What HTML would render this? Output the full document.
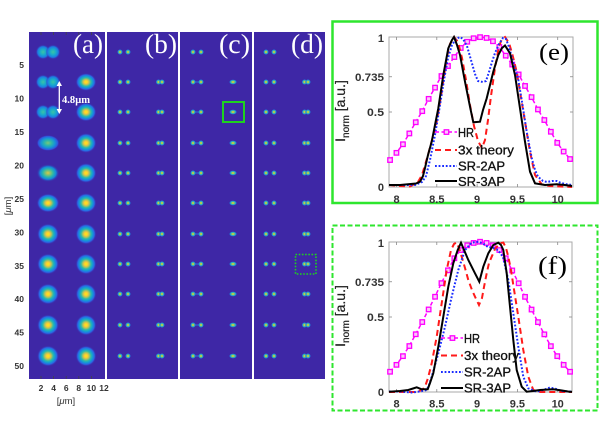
<!DOCTYPE html>
<html><head><meta charset="utf-8"><style>
html,body{margin:0;padding:0;background:#fff;}
svg{display:block;}
</style></head><body>
<svg width="600" height="425" viewBox="0 0 600 425" xmlns="http://www.w3.org/2000/svg">
<defs>
<radialGradient id="gBig">
<stop offset="0" stop-color="#f9f20f"/><stop offset="0.17" stop-color="#fbc936"/><stop offset="0.32" stop-color="#a6c262"/><stop offset="0.47" stop-color="#2fbaa6"/><stop offset="0.62" stop-color="#139fd2"/><stop offset="0.8" stop-color="#2a67e6"/><stop offset="1" stop-color="#3e27a6" stop-opacity="0"/>
</radialGradient>
<radialGradient id="gMid2">
<stop offset="0" stop-color="#dcc648"/><stop offset="0.2" stop-color="#8cc46c"/><stop offset="0.45" stop-color="#2cb8a8"/><stop offset="0.7" stop-color="#1488dc"/><stop offset="1" stop-color="#3e27a6" stop-opacity="0"/>
</radialGradient>
<radialGradient id="gMid">
<stop offset="0" stop-color="#7cc57a"/><stop offset="0.3" stop-color="#31b9a5"/><stop offset="0.6" stop-color="#1695d6"/><stop offset="0.85" stop-color="#3056e0"/><stop offset="1" stop-color="#3e27a6" stop-opacity="0"/>
</radialGradient>
<radialGradient id="gLobe">
<stop offset="0" stop-color="#3cc4a4"/><stop offset="0.4" stop-color="#18aacc"/><stop offset="0.72" stop-color="#1e78e4"/><stop offset="1" stop-color="#3e27a6" stop-opacity="0"/>
</radialGradient>
<radialGradient id="gDot">
<stop offset="0" stop-color="#f0e21c"/><stop offset="0.3" stop-color="#a8c858"/><stop offset="0.55" stop-color="#30b8b0"/><stop offset="0.8" stop-color="#1d7fe0"/><stop offset="1" stop-color="#3e27a6" stop-opacity="0"/>
</radialGradient>
</defs>

<!-- LEFT PANELS -->
<rect x="29" y="32" width="76" height="347" fill="#3e27a6"/>
<rect x="107" y="32" width="71" height="347" fill="#3e27a6"/>
<rect x="180" y="32" width="72" height="347" fill="#3e27a6"/>
<rect x="254" y="32" width="71" height="347" fill="#3e27a6"/>

<!-- panel (a) blobs -->
<g>
<circle cx="43" cy="52" r="7.5" fill="url(#gLobe)"/><circle cx="53" cy="52" r="7.5" fill="url(#gLobe)"/>
<circle cx="43" cy="82" r="7.5" fill="url(#gLobe)"/><circle cx="53" cy="82" r="7.5" fill="url(#gLobe)"/>
<circle cx="43" cy="112" r="7.5" fill="url(#gLobe)"/><circle cx="53" cy="112" r="7.5" fill="url(#gLobe)"/>
<ellipse cx="48" cy="143" rx="11.5" ry="8" fill="url(#gMid)"/>
<ellipse cx="48" cy="173" rx="11.5" ry="9" fill="url(#gMid2)"/>
<ellipse cx="48" cy="203" rx="11.5" ry="9.5" fill="url(#gBig)"/>
<ellipse cx="48" cy="234" rx="11" ry="10.5" fill="url(#gBig)"/>
<ellipse cx="48" cy="264" rx="11" ry="10.5" fill="url(#gBig)"/>
<ellipse cx="48" cy="294" rx="11" ry="10.5" fill="url(#gBig)"/>
<ellipse cx="48" cy="325" rx="11" ry="10.5" fill="url(#gBig)"/>
<ellipse cx="48" cy="356" rx="11" ry="10.5" fill="url(#gBig)"/>
<ellipse cx="86" cy="82" rx="10.5" ry="9" fill="url(#gBig)"/>
<ellipse cx="86" cy="112" rx="10.5" ry="9.5" fill="url(#gBig)"/>
<ellipse cx="86" cy="143" rx="10.5" ry="10" fill="url(#gBig)"/>
<ellipse cx="86" cy="173" rx="10.5" ry="10" fill="url(#gBig)"/>
<ellipse cx="86" cy="203" rx="10.5" ry="10" fill="url(#gBig)"/>
<ellipse cx="86" cy="234" rx="10.5" ry="10.5" fill="url(#gBig)"/>
<ellipse cx="86" cy="264" rx="10.5" ry="10.5" fill="url(#gBig)"/>
<ellipse cx="86" cy="294" rx="10.5" ry="10.5" fill="url(#gBig)"/>
<ellipse cx="86" cy="325" rx="10.5" ry="10.5" fill="url(#gBig)"/>
<ellipse cx="86" cy="356" rx="10.5" ry="10.5" fill="url(#gBig)"/>
</g>

<!-- panels b,c,d dots -->
<g fill="url(#gDot)">
<circle cx="120" cy="52" r="2.8"/><circle cx="128" cy="52" r="2.8"/>
<circle cx="120" cy="82" r="2.8"/><circle cx="128" cy="82" r="2.8"/><circle cx="158.5" cy="82" r="2.8"/><circle cx="162" cy="82" r="2.8"/>
<circle cx="120" cy="112" r="2.8"/><circle cx="128" cy="112" r="2.8"/><circle cx="158.5" cy="112" r="2.8"/><circle cx="162" cy="112" r="2.8"/>
<circle cx="120" cy="143" r="2.8"/><circle cx="128" cy="143" r="2.8"/><circle cx="158.5" cy="143" r="2.8"/><circle cx="162" cy="143" r="2.8"/>
<circle cx="120" cy="173" r="2.8"/><circle cx="128" cy="173" r="2.8"/><circle cx="158.5" cy="173" r="2.8"/><circle cx="162" cy="173" r="2.8"/>
<circle cx="120" cy="203" r="2.8"/><circle cx="128" cy="203" r="2.8"/><circle cx="158.5" cy="203" r="2.8"/><circle cx="162" cy="203" r="2.8"/>
<circle cx="120" cy="234" r="2.8"/><circle cx="128" cy="234" r="2.8"/><circle cx="158.5" cy="234" r="2.8"/><circle cx="162" cy="234" r="2.8"/>
<circle cx="120" cy="264" r="2.8"/><circle cx="128" cy="264" r="2.8"/><circle cx="158.5" cy="264" r="2.8"/><circle cx="162" cy="264" r="2.8"/>
<circle cx="120" cy="294" r="2.8"/><circle cx="128" cy="294" r="2.8"/><circle cx="158.5" cy="294" r="2.8"/><circle cx="162" cy="294" r="2.8"/>
<circle cx="120" cy="325" r="2.8"/><circle cx="128" cy="325" r="2.8"/><circle cx="158.5" cy="325" r="2.8"/><circle cx="162" cy="325" r="2.8"/>
<circle cx="120" cy="356" r="2.8"/><circle cx="128" cy="356" r="2.8"/><circle cx="158.5" cy="356" r="2.8"/><circle cx="162" cy="356" r="2.8"/>
<circle cx="193" cy="52" r="2.8"/><circle cx="201" cy="52" r="2.8"/>
<circle cx="193" cy="82" r="2.8"/><circle cx="201" cy="82" r="2.8"/><ellipse cx="233" cy="82" rx="4" ry="2.6"/>
<circle cx="193" cy="112" r="2.8"/><circle cx="201" cy="112" r="2.8"/><ellipse cx="233" cy="112" rx="4" ry="2.6"/>
<circle cx="193" cy="143" r="2.8"/><circle cx="201" cy="143" r="2.8"/><ellipse cx="233" cy="143" rx="4" ry="2.6"/>
<circle cx="193" cy="173" r="2.8"/><circle cx="201" cy="173" r="2.8"/><ellipse cx="233" cy="173" rx="4" ry="2.6"/>
<circle cx="193" cy="203" r="2.8"/><circle cx="201" cy="203" r="2.8"/><ellipse cx="233" cy="203" rx="4" ry="2.6"/>
<circle cx="193" cy="234" r="2.8"/><circle cx="201" cy="234" r="2.8"/><ellipse cx="233" cy="234" rx="4" ry="2.6"/>
<circle cx="193" cy="264" r="2.8"/><circle cx="201" cy="264" r="2.8"/><ellipse cx="233" cy="264" rx="4" ry="2.6"/>
<circle cx="193" cy="294" r="2.8"/><circle cx="201" cy="294" r="2.8"/><ellipse cx="233" cy="294" rx="4" ry="2.6"/>
<circle cx="193" cy="325" r="2.8"/><circle cx="201" cy="325" r="2.8"/><ellipse cx="233" cy="325" rx="4" ry="2.6"/>
<circle cx="193" cy="356" r="2.8"/><circle cx="201" cy="356" r="2.8"/><ellipse cx="233" cy="356" rx="4" ry="2.6"/>
<circle cx="266" cy="52" r="2.8"/><circle cx="274" cy="52" r="2.8"/>
<circle cx="266" cy="82" r="2.8"/><circle cx="274" cy="82" r="2.8"/><circle cx="304.5" cy="82" r="2.8"/><circle cx="308" cy="82" r="2.8"/>
<circle cx="266" cy="112" r="2.8"/><circle cx="274" cy="112" r="2.8"/><circle cx="304.5" cy="112" r="2.8"/><circle cx="308" cy="112" r="2.8"/>
<circle cx="266" cy="143" r="2.8"/><circle cx="274" cy="143" r="2.8"/><circle cx="304.5" cy="143" r="2.8"/><circle cx="308" cy="143" r="2.8"/>
<circle cx="266" cy="173" r="2.8"/><circle cx="274" cy="173" r="2.8"/><circle cx="304.5" cy="173" r="2.8"/><circle cx="308" cy="173" r="2.8"/>
<circle cx="266" cy="203" r="2.8"/><circle cx="274" cy="203" r="2.8"/><circle cx="304.5" cy="203" r="2.8"/><circle cx="308" cy="203" r="2.8"/>
<circle cx="266" cy="234" r="2.8"/><circle cx="274" cy="234" r="2.8"/><circle cx="304.5" cy="234" r="2.8"/><circle cx="308" cy="234" r="2.8"/>
<circle cx="266" cy="264" r="2.8"/><circle cx="274" cy="264" r="2.8"/><circle cx="304.5" cy="264" r="2.8"/><circle cx="308" cy="264" r="2.8"/>
<circle cx="266" cy="294" r="2.8"/><circle cx="274" cy="294" r="2.8"/><circle cx="304.5" cy="294" r="2.8"/><circle cx="308" cy="294" r="2.8"/>
<circle cx="266" cy="325" r="2.8"/><circle cx="274" cy="325" r="2.8"/><circle cx="304.5" cy="325" r="2.8"/><circle cx="308" cy="325" r="2.8"/>
<circle cx="266" cy="356" r="2.8"/><circle cx="274" cy="356" r="2.8"/><circle cx="304.5" cy="356" r="2.8"/><circle cx="308" cy="356" r="2.8"/>
</g>
<g stroke="#2a8ee8" stroke-width="1.2" opacity="0.6">
<line x1="195" y1="82" x2="199" y2="82"/><line x1="195" y1="112" x2="199" y2="112"/><line x1="195" y1="143" x2="199" y2="143"/><line x1="195" y1="173" x2="199" y2="173"/><line x1="195" y1="203" x2="199" y2="203"/><line x1="195" y1="234" x2="199" y2="234"/><line x1="195" y1="264" x2="199" y2="264"/><line x1="195" y1="294" x2="199" y2="294"/><line x1="195" y1="325" x2="199" y2="325"/><line x1="195" y1="356" x2="199" y2="356"/>
</g>

<g stroke="#444" stroke-width="0.8">
<line x1="41" y1="32" x2="41" y2="35"/><line x1="53.6" y1="32" x2="53.6" y2="35"/><line x1="66.2" y1="32" x2="66.2" y2="35"/><line x1="78.8" y1="32" x2="78.8" y2="35"/><line x1="91.4" y1="32" x2="91.4" y2="35"/>
<line x1="41" y1="379" x2="41" y2="376"/><line x1="53.6" y1="379" x2="53.6" y2="376"/><line x1="66.2" y1="379" x2="66.2" y2="376"/><line x1="78.8" y1="379" x2="78.8" y2="376"/><line x1="91.4" y1="379" x2="91.4" y2="376"/>
</g>

<rect x="223" y="102" width="21" height="20" fill="none" stroke="#1ed21e" stroke-width="2"/>
<rect x="295.5" y="254.5" width="20.5" height="19.5" fill="none" stroke="#1ed21e" stroke-width="1.6" stroke-dasharray="1.6,1.6"/>

<line x1="59.3" y1="84" x2="59.3" y2="111" stroke="#fff" stroke-width="1.3"/>
<polygon points="59.3,81 56.6,86 62,86" fill="#fff"/>
<polygon points="59.3,114 56.6,109 62,109" fill="#fff"/>
<text x="62" y="103" font-family="Liberation Serif, serif" font-weight="bold" font-size="10.5" fill="#fff" textLength="28" lengthAdjust="spacingAndGlyphs">4.8μm</text>

<g font-family="Liberation Serif, serif" font-size="27" fill="#fff">
<text x="73" y="53" textLength="30" lengthAdjust="spacingAndGlyphs">(a)</text>
<text x="145" y="53" textLength="32" lengthAdjust="spacingAndGlyphs">(b)</text>
<text x="219" y="53" textLength="31" lengthAdjust="spacingAndGlyphs">(c)</text>
<text x="291" y="53" textLength="32" lengthAdjust="spacingAndGlyphs">(d)</text>
</g>

<g font-family="Liberation Sans, sans-serif" font-weight="bold" font-size="8.5" fill="#333" text-anchor="end">
<text x="24" y="68">5</text><text x="24" y="101.5">10</text><text x="24" y="135">15</text><text x="24" y="168.5">20</text><text x="24" y="202">25</text><text x="24" y="235.3">30</text><text x="24" y="268.8">35</text><text x="24" y="302.2">40</text><text x="24" y="335.7">45</text><text x="24" y="369.1">50</text>
</g>
<g font-family="Liberation Sans, sans-serif" font-weight="bold" font-size="8.5" fill="#333" text-anchor="middle">
<text x="41" y="391">2</text><text x="53.6" y="391">4</text><text x="66.2" y="391">6</text><text x="78.8" y="391">8</text><text x="91.4" y="391">10</text><text x="104" y="391">12</text>
</g>
<text x="66" y="404" font-family="Liberation Sans, sans-serif" font-size="9.5" fill="#333" text-anchor="middle">[<tspan font-style="italic">μ</tspan>m]</text>
<text transform="translate(11,206) rotate(-90)" font-family="Liberation Sans, sans-serif" font-size="9.5" fill="#333" text-anchor="middle">[<tspan font-style="italic">μ</tspan>m]</text>

<!-- ============ RIGHT TOP (e) ============ -->
<rect x="332.5" y="21.5" width="265" height="181.5" fill="none" stroke="#2ee62e" stroke-width="2.5"/>
<rect x="389" y="37" width="184" height="150" fill="#fff" stroke="#aaa" stroke-width="1"/>
<g stroke="#888" stroke-width="0.8">
<line x1="389" y1="76.75" x2="392" y2="76.75"/><line x1="389" y1="112" x2="392" y2="112"/>
<line x1="573" y1="76.75" x2="570" y2="76.75"/><line x1="573" y1="112" x2="570" y2="112"/>
<line x1="396.5" y1="187" x2="396.5" y2="184"/><line x1="436.8" y1="187" x2="436.8" y2="184"/><line x1="477.1" y1="187" x2="477.1" y2="184"/><line x1="517.4" y1="187" x2="517.4" y2="184"/><line x1="557.7" y1="187" x2="557.7" y2="184"/>
<line x1="396.5" y1="37" x2="396.5" y2="40"/><line x1="436.8" y1="37" x2="436.8" y2="40"/><line x1="477.1" y1="37" x2="477.1" y2="40"/><line x1="517.4" y1="37" x2="517.4" y2="40"/><line x1="557.7" y1="37" x2="557.7" y2="40"/>
</g>
<polyline fill="none" stroke="#ff00ff" stroke-width="1.5" stroke-dasharray="4,2.5" points="390,160 396.4,152.8 402.9,144.2 409.3,133.4 415.7,122.2 422.2,111.1 428.6,98.8 435,87.6 441.4,76 447.9,66 454.3,57 460.7,47.9 467.2,41.7 473.6,38.2 480,37.1 486.5,37.9 492.9,41.2 499.3,46.9 505.7,55.6 512.2,64.5 518.6,74.4 525,85.9 531.5,97.1 537.9,109.4 544.3,120 550.8,131.7 557.2,142.8 563.6,151.5 570,159"/>
<g fill="#f9c8f9" stroke="#ff00ff" stroke-width="1.3">
<rect x="387.8" y="157.8" width="4.5" height="4.5"/><rect x="394.2" y="150.6" width="4.5" height="4.5"/><rect x="400.7" y="142" width="4.5" height="4.5"/><rect x="407.1" y="131.2" width="4.5" height="4.5"/><rect x="413.5" y="120" width="4.5" height="4.5"/><rect x="420" y="108.9" width="4.5" height="4.5"/><rect x="426.4" y="96.6" width="4.5" height="4.5"/><rect x="432.8" y="85.4" width="4.5" height="4.5"/><rect x="439.2" y="73.8" width="4.5" height="4.5"/><rect x="445.7" y="63.8" width="4.5" height="4.5"/><rect x="452.1" y="54.8" width="4.5" height="4.5"/><rect x="458.5" y="45.7" width="4.5" height="4.5"/><rect x="465" y="39.5" width="4.5" height="4.5"/><rect x="471.4" y="36" width="4.5" height="4.5"/><rect x="477.8" y="34.9" width="4.5" height="4.5"/><rect x="484.3" y="35.7" width="4.5" height="4.5"/><rect x="490.7" y="39" width="4.5" height="4.5"/><rect x="497.1" y="44.7" width="4.5" height="4.5"/><rect x="503.5" y="53.4" width="4.5" height="4.5"/><rect x="510" y="62.3" width="4.5" height="4.5"/><rect x="516.4" y="72.2" width="4.5" height="4.5"/><rect x="522.8" y="83.7" width="4.5" height="4.5"/><rect x="529.3" y="94.9" width="4.5" height="4.5"/><rect x="535.7" y="107.2" width="4.5" height="4.5"/><rect x="542.1" y="117.8" width="4.5" height="4.5"/><rect x="548.6" y="129.5" width="4.5" height="4.5"/><rect x="555" y="140.6" width="4.5" height="4.5"/><rect x="561.4" y="149.3" width="4.5" height="4.5"/><rect x="567.8" y="156.8" width="4.5" height="4.5"/>
</g>
<polyline fill="none" stroke="#ff1a1a" stroke-width="2" stroke-dasharray="6,4" points="389,185 400,186 410,186.5 418,182 422,175 428,155 432,140 436.7,121.7 441.7,91.7 446.7,58 450,44 454,37 458,42 462,58 466,80 470,105 474,126 478,141 482,148 485,140 488,120 491,96 495,68 499,46 502,39 505,37 509,43 512,53 516.7,71.7 520,91.7 525,121.7 530,151.7 535,175 541.7,184.3 550,186 560,186.5 572,187"/>
<polyline fill="none" stroke="#1a2cff" stroke-width="2" stroke-dasharray="1.8,1.8" points="389,185 400,185 415,185 422,182 426,176 430,160 435,135 440,105 444,80 448,58 452,45 456,39 460,37 463,39 467,46 471,60 475,74 478,81 483,82 486,81 489,72 492,62 495,53 499,44 503,38 506,39 509,47 513,62 518,78 521.7,100 526.7,131.7 531.7,158 535,170 538,176.7 543,181 547,182 552,181 556.7,181 561,183 566.7,184.3 572,185"/>
<polyline fill="none" stroke="#000" stroke-width="2" points="389,185 400,185 408,184.3 416,183.5 420,181.7 423,176 425,168 428,155 431.7,141.7 435,125 438.3,108.3 443.3,75 448.3,48.3 452,40 454,37 457,45 460,55 465,81.7 470,106.7 473.3,122.3 480,121.7 483,110 486.7,98.3 490,85 493.3,71.7 498.3,55 502,48 505,45.5 510,53.3 515,75 520,108.3 525,141.7 530,171.7 535,183.3 545,185 556.7,184.3 565,185 572,186"/>
<line x1="435" y1="132" x2="457" y2="132" stroke="#ff00ff" stroke-width="1.5" stroke-dasharray="4,2.5"/>
<rect x="444.2" y="129.8" width="4.5" height="4.5" fill="#f9c8f9" stroke="#ff00ff" stroke-width="1.3"/>
<line x1="435" y1="150" x2="457" y2="150" stroke="#ff1a1a" stroke-width="2" stroke-dasharray="6,4"/>
<line x1="435" y1="166" x2="457" y2="166" stroke="#1a2cff" stroke-width="2" stroke-dasharray="1.8,1.8"/>
<line x1="435" y1="181" x2="457" y2="181" stroke="#000" stroke-width="2"/>
<g font-family="Liberation Sans, sans-serif" font-size="12.5" fill="#111" stroke="#111" stroke-width="0.3">
<text x="458" y="136.8" textLength="16" lengthAdjust="spacingAndGlyphs">HR</text>
<text x="458" y="154.5" textLength="56" lengthAdjust="spacingAndGlyphs">3x theory</text>
<text x="458" y="170.3" textLength="47" lengthAdjust="spacingAndGlyphs">SR-2AP</text>
<text x="458" y="185.8" textLength="47" lengthAdjust="spacingAndGlyphs">SR-3AP</text>
</g>
<g font-family="Liberation Sans, sans-serif" font-weight="bold" font-size="11" fill="#333" text-anchor="end">
<text x="384" y="42">1</text>
<text x="384" y="80.8" textLength="29" lengthAdjust="spacingAndGlyphs">0.735</text>
<text x="384" y="116" textLength="17" lengthAdjust="spacingAndGlyphs">0.5</text>
<text x="384" y="191">0</text>
</g>
<g font-family="Liberation Sans, sans-serif" font-weight="bold" font-size="11" fill="#333" text-anchor="middle">
<text x="396.5" y="203">8</text><text x="436.8" y="203">8.5</text><text x="477.1" y="203">9</text><text x="517.4" y="203">9.5</text><text x="557.7" y="203">10</text>
</g>
<text transform="translate(345,111) rotate(-90)" font-family="Liberation Sans, sans-serif" font-size="14" fill="#222" stroke="#222" stroke-width="0.25" text-anchor="middle">I<tspan font-size="10" dy="4">norm</tspan><tspan dy="-4"> [a.u.]</tspan></text>
<text x="539" y="60" font-family="Liberation Serif, serif" font-size="24" fill="#000" textLength="30" lengthAdjust="spacingAndGlyphs">(e)</text>

<!-- ============ RIGHT BOTTOM (f) ============ -->
<rect x="332.5" y="225.5" width="265" height="185" fill="none" stroke="#2ee62e" stroke-width="2" stroke-dasharray="5,2.5"/>
<rect x="389" y="242" width="183" height="150" fill="#fff" stroke="#aaa" stroke-width="1"/>
<g stroke="#888" stroke-width="0.8">
<line x1="389" y1="281.75" x2="392" y2="281.75"/><line x1="389" y1="317" x2="392" y2="317"/>
<line x1="572" y1="281.75" x2="569" y2="281.75"/><line x1="572" y1="317" x2="569" y2="317"/>
<line x1="396.5" y1="392" x2="396.5" y2="389"/><line x1="436.8" y1="392" x2="436.8" y2="389"/><line x1="477.1" y1="392" x2="477.1" y2="389"/><line x1="517.4" y1="392" x2="517.4" y2="389"/><line x1="557.7" y1="392" x2="557.7" y2="389"/>
<line x1="396.5" y1="242" x2="396.5" y2="245"/><line x1="436.8" y1="242" x2="436.8" y2="245"/><line x1="477.1" y1="242" x2="477.1" y2="245"/><line x1="517.4" y1="242" x2="517.4" y2="245"/><line x1="557.7" y1="242" x2="557.7" y2="245"/>
</g>
<polyline fill="none" stroke="#ff00ff" stroke-width="1.5" stroke-dasharray="4,2.5" points="390,371.7 396.4,364.8 402.9,356.1 409.3,346 415.7,334.2 422.2,322 428.6,309.4 435,296.7 441.4,283.1 447.9,270.3 454.3,258.2 460.7,250 467.2,245.3 473.6,242.9 480,241.7 486.5,242.9 492.9,245.3 499.3,250 505.7,258.2 512.2,270.4 518.6,283.2 525,296.8 531.5,309.5 537.9,322.1 544.3,334.3 550.8,346.1 557.2,356.1 563.6,364.8 570,371.7"/>
<g fill="#f9c8f9" stroke="#ff00ff" stroke-width="1.3">
<rect x="387.8" y="369.5" width="4.5" height="4.5"/><rect x="394.2" y="362.6" width="4.5" height="4.5"/><rect x="400.7" y="353.9" width="4.5" height="4.5"/><rect x="407.1" y="343.8" width="4.5" height="4.5"/><rect x="413.5" y="332" width="4.5" height="4.5"/><rect x="420" y="319.8" width="4.5" height="4.5"/><rect x="426.4" y="307.2" width="4.5" height="4.5"/><rect x="432.8" y="294.5" width="4.5" height="4.5"/><rect x="439.2" y="280.9" width="4.5" height="4.5"/><rect x="445.7" y="268.1" width="4.5" height="4.5"/><rect x="452.1" y="256" width="4.5" height="4.5"/><rect x="458.5" y="247.8" width="4.5" height="4.5"/><rect x="465" y="243.1" width="4.5" height="4.5"/><rect x="471.4" y="240.7" width="4.5" height="4.5"/><rect x="477.8" y="239.5" width="4.5" height="4.5"/><rect x="484.3" y="240.7" width="4.5" height="4.5"/><rect x="490.7" y="243.1" width="4.5" height="4.5"/><rect x="497.1" y="247.8" width="4.5" height="4.5"/><rect x="503.5" y="256" width="4.5" height="4.5"/><rect x="510" y="268.2" width="4.5" height="4.5"/><rect x="516.4" y="281" width="4.5" height="4.5"/><rect x="522.8" y="294.6" width="4.5" height="4.5"/><rect x="529.3" y="307.3" width="4.5" height="4.5"/><rect x="535.7" y="319.9" width="4.5" height="4.5"/><rect x="542.1" y="332.1" width="4.5" height="4.5"/><rect x="548.6" y="343.9" width="4.5" height="4.5"/><rect x="555" y="353.9" width="4.5" height="4.5"/><rect x="561.4" y="362.6" width="4.5" height="4.5"/><rect x="567.8" y="369.5" width="4.5" height="4.5"/>
</g>
<polyline fill="none" stroke="#ff1a1a" stroke-width="2" stroke-dasharray="6,4" points="389,392 400,392 415,392 422,390 425,386.7 428,378 431.7,363.3 436.7,336.7 441.7,303.3 446.7,270 451,250 454,244 456.5,242.5 459,248 461.7,256.7 465,268 468.3,280 472,290 475,296.7 479,305 482,298 484,287 486.7,273.3 489,263 491.7,256.7 495,249 498.3,245 501,243 503.3,242.5 506,248 508.3,256.7 511,270 513.3,285 518.3,316.7 523.3,350 528.3,376.7 533.3,390 540,392 555,392 572,392"/>
<polyline fill="none" stroke="#1a2cff" stroke-width="2" stroke-dasharray="1.8,1.8" points="389,391.5 400,391.5 411.7,392.5 420,391.5 426.7,390 429,385 431.7,376.7 438.3,353.3 445,326.7 451.7,296.7 458.3,270 465,250 471.7,242.7 478.3,241.7 483,243.5 488,247 493,248 498,250 503,257 508.3,280 513.3,313.3 518.3,346.7 523.3,376.7 528.3,388.3 536.7,391.7 543,390 550,387.5 556,389 562,391 572,391.7"/>
<polyline fill="none" stroke="#000" stroke-width="2" points="389,391.7 400,391 408.3,390 413,388.5 416.7,387.3 421.7,389.3 427.7,389.3 430,383 433.3,373.3 438.3,346.7 443.3,316.7 448.3,286.7 453.3,263.3 457.7,250 461,242.7 464.5,251 468.3,260 475,273.3 479.3,281.7 483.3,266.7 488.3,253.3 493.3,245 498.3,242.7 501,245 503.3,250 506.7,273.3 510,306.7 513.3,340 516.7,370 521.7,386.7 526.7,391.7 533,391 540,390 553.3,389.3 562,390.5 569.3,391.7 572,391.7"/>
<line x1="441" y1="338" x2="463" y2="338" stroke="#ff00ff" stroke-width="1.5" stroke-dasharray="4,2.5"/>
<rect x="450.2" y="335.8" width="4.5" height="4.5" fill="#f9c8f9" stroke="#ff00ff" stroke-width="1.3"/>
<line x1="441" y1="355.5" x2="463" y2="355.5" stroke="#ff1a1a" stroke-width="2" stroke-dasharray="6,4"/>
<line x1="441" y1="372" x2="463" y2="372" stroke="#1a2cff" stroke-width="2" stroke-dasharray="1.8,1.8"/>
<line x1="441" y1="388" x2="463" y2="388" stroke="#000" stroke-width="2"/>
<g font-family="Liberation Sans, sans-serif" font-size="12.5" fill="#111" stroke="#111" stroke-width="0.3">
<text x="464" y="342.8" textLength="16" lengthAdjust="spacingAndGlyphs">HR</text>
<text x="464" y="360.2" textLength="55" lengthAdjust="spacingAndGlyphs">3x theory</text>
<text x="464" y="376.7" textLength="47" lengthAdjust="spacingAndGlyphs">SR-2AP</text>
<text x="464" y="392.7" textLength="47" lengthAdjust="spacingAndGlyphs">SR-3AP</text>
</g>
<g font-family="Liberation Sans, sans-serif" font-weight="bold" font-size="11" fill="#333" text-anchor="end">
<text x="384" y="247">1</text>
<text x="384" y="285.8" textLength="29" lengthAdjust="spacingAndGlyphs">0.735</text>
<text x="384" y="321" textLength="17" lengthAdjust="spacingAndGlyphs">0.5</text>
<text x="384" y="396">0</text>
</g>
<g font-family="Liberation Sans, sans-serif" font-weight="bold" font-size="11" fill="#333" text-anchor="middle">
<text x="396.5" y="407.5">8</text><text x="436.8" y="407.5">8.5</text><text x="477.1" y="407.5">9</text><text x="517.4" y="407.5">9.5</text><text x="557.7" y="407.5">10</text>
</g>
<text transform="translate(345,316) rotate(-90)" font-family="Liberation Sans, sans-serif" font-size="14" fill="#222" stroke="#222" stroke-width="0.25" text-anchor="middle">I<tspan font-size="10" dy="4">norm</tspan><tspan dy="-4"> [a.u.]</tspan></text>
<text x="538" y="274" font-family="Liberation Serif, serif" font-size="25" fill="#000" textLength="29" lengthAdjust="spacingAndGlyphs">(f)</text>
</svg>
</body></html>
